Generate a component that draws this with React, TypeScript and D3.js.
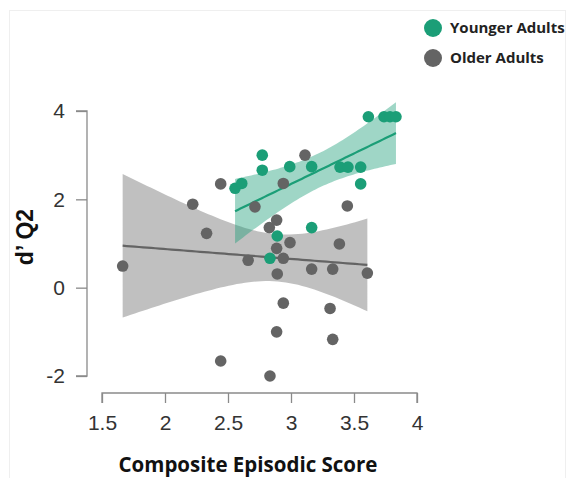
import { useEffect, useRef } from "react";
import * as d3 from "d3";

// values
const youngX = [2.556, 2.609, 2.772, 2.772, 2.99, 3.164, 3.389, 3.452, 3.553, 3.553, 3.164, 2.891, 2.833, 3.614, 3.738, 3.786, 3.833];
const youngY = [2.25, 2.36, 3.0, 2.66, 2.74, 2.74, 2.73, 2.73, 2.73, 2.35, 1.36, 1.17, 0.665, 3.87, 3.87, 3.87, 3.87];

const olderX = [1.664, 2.22, 2.33, 2.442, 2.442, 2.66, 2.714, 2.828, 2.886, 2.886, 2.939, 2.891, 2.992, 2.939, 3.111, 3.164, 3.331, 3.384, 3.447, 3.606, 2.939, 3.31, 2.886, 3.331, 2.833];
const olderY = [0.49, 1.89, 1.23, 2.35, -1.66, 0.62, 1.83, 1.36, 1.53, 0.89, 0.665, 0.31, 1.02, 2.36, 3.0, 0.42, 0.42, 0.99, 1.85, 0.33, -0.35, -0.47, -1.0, -1.17, -2.0];

const xTicks = [1.5, 2, 2.5, 3, 3.5, 4];
const yTicks = [-2, 0, 2, 4];

const groups = [
  { name: "Younger Adults", xs: youngX, ys: youngY, color: "#1b9e77", band: "#1b9e77", bandOpacity: 0.42, t: 2.131 },
  { name: "Older Adults", xs: olderX, ys: olderY, color: "#646464", band: "#8c8c8c", bandOpacity: 0.55, t: 2.069 },
];

// ordinary least squares with a 95% band for the mean
const fit = (xs: number[], ys: number[], t: number) => {
  const n = xs.length;
  const mx = d3.mean(xs)!;
  const my = d3.mean(ys)!;
  let sxx = 0, sxy = 0;
  xs.forEach((x, i) => { sxx += (x - mx) ** 2; sxy += (x - mx) * (ys[i] - my); });
  const b = sxy / sxx;
  const a = my - b * mx;
  let sse = 0;
  xs.forEach((x, i) => { sse += (ys[i] - (a + b * x)) ** 2; });
  const s = Math.sqrt(sse / (n - 2));
  const [x0, x1] = d3.extent(xs) as [number, number];
  const pts = d3.range(0, 61).map(k => {
    const x = x0 + (x1 - x0) * k / 60;
    const yh = a + b * x;
    const se = s * Math.sqrt(1 / n + (x - mx) ** 2 / sxx);
    return { x, y: yh, lo: yh - t * se, hi: yh + t * se };
  });
  return pts;
};

export default function App() {
  const ref = useRef<SVGSVGElement>(null);

  useEffect(() => {
    const svg = d3.select(ref.current);
    svg.selectAll("*").remove();

    const x = d3.scaleLinear().domain([1.5, 4]).range([102, 417]);
    const y = d3.scaleLinear().domain([-2, 4]).range([376, 111]);

    // faint frame of the original figure
    svg.append("rect").attr("x", 9.5).attr("y", 10.5).attr("width", 556).attr("height", 480)
      .attr("fill", "none").attr("stroke", "#efefef");

    const fits = groups.map(g => fit(g.xs, g.ys, g.t));

    // bands, older first so the green one sits on top
    [1, 0].forEach(i => {
      const g = groups[i];
      svg.append("path")
        .datum(fits[i])
        .attr("fill", g.band)
        .attr("fill-opacity", g.bandOpacity)
        .attr("d", d3.area<any>().x(d => x(d.x)).y0(d => y(d.lo)).y1(d => y(d.hi)));
    });
    [1, 0].forEach(i => {
      svg.append("path")
        .datum(fits[i])
        .attr("fill", "none")
        .attr("stroke", groups[i].color)
        .attr("stroke-width", 2.2)
        .attr("d", d3.line<any>().x(d => x(d.x)).y(d => y(d.y)));
    });

    [1, 0].forEach(i => {
      const g = groups[i];
      svg.append("g")
        .selectAll("circle")
        .data(g.xs.map((v, k) => [v, g.ys[k]]))
        .join("circle")
        .attr("cx", d => x(d[0]))
        .attr("cy", d => y(d[1]))
        .attr("r", 5.8)
        .attr("fill", g.color);
    });

    const yAxis = svg.append("g")
      .attr("transform", "translate(87,0)")
      .call(d3.axisLeft(y).tickValues(yTicks).tickSize(11).tickPadding(11).tickFormat(d => String(d)));
    const xAxis = svg.append("g")
      .attr("transform", "translate(0,393)")
      .call(d3.axisBottom(x).tickValues(xTicks).tickSize(10).tickPadding(12).tickFormat(d => String(d)));

    [xAxis, yAxis].forEach(a => {
      a.attr("font-family", "'Liberation Sans', Arial, sans-serif").attr("font-size", 21);
      a.selectAll("path, line").attr("stroke", "#8a8a8a").attr("stroke-width", 1.3);
      a.selectAll("text").attr("fill", "#333");
    });
    xAxis.select(".domain").attr("d", `M${x(1.5)},10V0H${x(4)}V10`);
    yAxis.select(".domain").attr("d", `M-11,${y(4)}H0V${y(-2)}H-11`);

    svg.append("text")
      .attr("transform", "translate(33,237) rotate(-90)")
      .attr("text-anchor", "middle")
      .attr("font-family", "'Liberation Sans', Arial, sans-serif")
      .attr("font-weight", "bold")
      .attr("font-size", 23)
      .attr("fill", "#111")
      .text("d’ Q2");

    svg.append("text")
      .attr("x", 248)
      .attr("y", 472)
      .attr("text-anchor", "middle")
      .attr("font-family", "'Open Sans', sans-serif")
      .attr("font-weight", "bold")
      .attr("font-size", 20.5)
      .attr("fill", "#111")
      .text("Composite Episodic Score");

    const legend = svg.append("g");
    groups.forEach((g, i) => {
      legend.append("circle").attr("cx", 433).attr("cy", 28 + i * 30).attr("r", 9).attr("fill", g.color);
      legend.append("text")
        .attr("x", 450)
        .attr("y", 28 + i * 30)
        .attr("dy", "0.36em")
        .attr("font-family", "'Open Sans', sans-serif")
        .attr("font-weight", "bold")
        .attr("font-size", 15)
        .attr("fill", "#222")
        .text(g.name);
    });
  }, []);

  return (
    <svg ref={ref} width={569} height={478} style={{ position: "absolute", left: 0, top: 0, background: "#fff" }} />
  );
}
